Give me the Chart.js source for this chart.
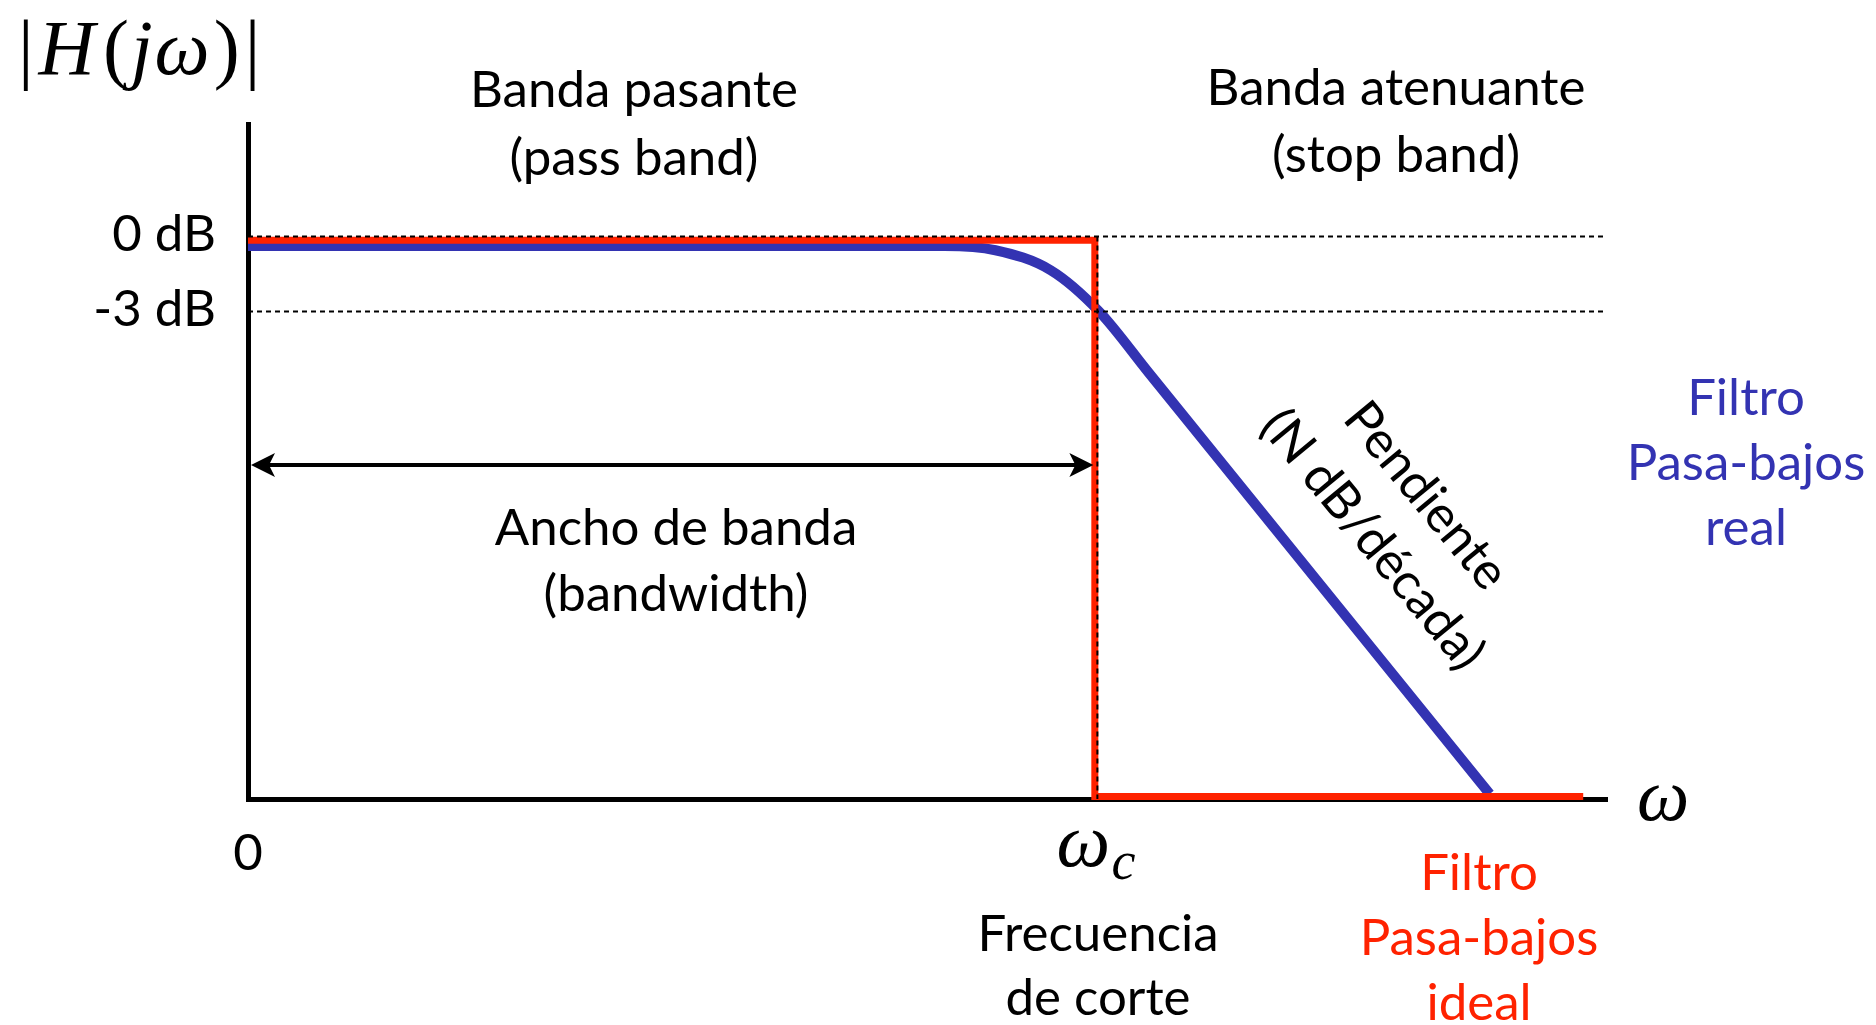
<!DOCTYPE html>
<html>
<head>
<meta charset="utf-8">
<script src="https://cdn.jsdelivr.net/npm/chart.js@4.4.0/dist/chart.umd.min.js"></script>
<style>
html,body{margin:0;padding:0;background:#ffffff;overflow:hidden}
#wrap{width:1876px;height:1025px;position:relative}
</style>
</head>
<body>
<div id="wrap"><canvas id="c" width="1876" height="1025"></canvas></div>
<script>
// ---------- data ----------
const omegaC = 10;                 // cut-off frequency (x units)
const xMin = 0, xMax = 16;
const yMin = -22.5, yMax = 4.5;    // magnitude (dB, schematic)
const yTickValues = [0, -3];
const yTickLabels = ['0 dB', '-3 dB'];
const refLevels = [0, -3];         // dotted reference levels
const idealX = [0, 9.97, 9.97, 15.72];
const idealY = [-0.15, -0.15, -22.4, -22.4];
const realX = [0, 8.2, 8.8, 9.45, 10.02, 10.6, 14.62];
const realY = [-0.38, -0.38, -0.55, -1.35, -3.0, -5.43, -22.3];
const bandwidthArrowY = -9.14;

const RED = '#ff2200';
const BLUE = '#3333b2';
const SANS = 'Lato';
const SERIF = "'Liberation Serif'";

const pts = (xs, ys) => xs.map((x, i) => ({x: x, y: ys[i]}));

const datasets = [];
refLevels.forEach(lv => {
  datasets.push({
    data: [{x: xMin, y: lv}, {x: xMax, y: lv}],
    borderColor: '#000', borderWidth: 2, borderDash: [5, 4],
    showLine: true, pointRadius: 0, order: 0, clip: false
  });
});
datasets.push({
  data: [{x: omegaC, y: 0}, {x: omegaC, y: yMin}],
  borderColor: '#000', borderWidth: 2, borderDash: [5, 4],
  showLine: true, pointRadius: 0, order: 0, clip: false
});
datasets.push({
  data: pts(idealX, idealY),
  borderColor: RED, borderWidth: 7, borderJoinStyle: 'miter',
  showLine: true, pointRadius: 0, order: 1, clip: false
});
datasets.push({
  data: pts(realX, realY),
  borderColor: BLUE, borderWidth: 10, cubicInterpolationMode: 'monotone',
  showLine: true, pointRadius: 0, order: 2, clip: false
});

function txt(ctx, s, x, y, font, color, align) {
  ctx.save();
  ctx.font = font;
  ctx.fillStyle = color || '#000';
  ctx.textAlign = align || 'center';
  ctx.textBaseline = 'alphabetic';
  ctx.fillText(s, x, y);
  ctx.restore();
}

const annot = {
  id: 'annot',
  afterDatasetsDraw(chart) {
    const ctx = chart.ctx;
    const xs = chart.scales.x, ys = chart.scales.y;
    const f = '51px ' + SANS;

    // bandwidth arrow
    const ay = ys.getPixelForValue(bandwidthArrowY);
    const ax0 = xs.getPixelForValue(0) + 3;
    const ax1 = xs.getPixelForValue(omegaC) - 4;
    ctx.save();
    ctx.strokeStyle = '#000'; ctx.fillStyle = '#000'; ctx.lineWidth = 4;
    ctx.beginPath(); ctx.moveTo(ax0 + 15, ay); ctx.lineTo(ax1 - 15, ay); ctx.stroke();
    ctx.beginPath(); ctx.moveTo(ax0, ay); ctx.lineTo(ax0 + 24, ay - 12); ctx.lineTo(ax0 + 18, ay); ctx.lineTo(ax0 + 24, ay + 12); ctx.closePath(); ctx.fill();
    ctx.beginPath(); ctx.moveTo(ax1, ay); ctx.lineTo(ax1 - 24, ay - 12); ctx.lineTo(ax1 - 18, ay); ctx.lineTo(ax1 - 24, ay + 12); ctx.closePath(); ctx.fill();
    ctx.restore();

    // x tick labels
    txt(ctx, '0', xs.getPixelForValue(0), 870, f, '#000');
    const wc = xs.getPixelForValue(omegaC);
    txt(ctx, 'ω', wc - 14, 866, 'italic 76px ' + SERIF, '#000');
    txt(ctx, 'c', wc + 26, 879, 'italic 54px ' + SERIF, '#000');
    // axis name omega
    txt(ctx, 'ω', 1663, 820, 'italic 74px ' + SERIF, '#000');

    // |H(jω)|
    const up = '78px ' + SERIF, it = 'italic 78px ' + SERIF;
    const parts = [['|', up, 5], ['H', it, 8], ['(', up, 2], ['j', it, 2], ['ω', it, 4], [')', up, 5], ['|', up, 0]];
    let px = 18;
    ctx.save();
    ctx.fillStyle = '#000'; ctx.textBaseline = 'alphabetic'; ctx.textAlign = 'left';
    parts.forEach(p => { ctx.font = p[1]; ctx.fillText(p[0], px, 74); px += ctx.measureText(p[0]).width + p[2]; });
    ctx.restore();

    // band labels
    txt(ctx, 'Banda pasante', 634, 107, f);
    txt(ctx, '(pass band)', 634, 175, f);
    txt(ctx, 'Banda atenuante', 1396, 105, f);
    txt(ctx, '(stop band)', 1396, 172, f);
    txt(ctx, 'Ancho de banda', 676, 545, f);
    txt(ctx, '(bandwidth)', 676, 611, f);
    txt(ctx, 'Frecuencia', 1098, 951, f);
    txt(ctx, 'de corte', 1098, 1015, f);
    txt(ctx, 'Filtro', 1479, 890, f, RED);
    txt(ctx, 'Pasa-bajos', 1479, 955, f, RED);
    txt(ctx, 'ideal', 1479, 1020, f, RED);
    txt(ctx, 'Filtro', 1746, 415, f, BLUE);
    txt(ctx, 'Pasa-bajos', 1746, 480, f, BLUE);
    txt(ctx, 'real', 1746, 545, f, BLUE);

    // slope label (rotated)
    ctx.save();
    ctx.translate(1400, 517);
    ctx.rotate(50.5 * Math.PI / 180);
    txt(ctx, 'Pendiente', 0, -17, f);
    txt(ctx, '(N dB/década)', 0, 52, f);
    ctx.restore();
  }
};

new Chart(document.getElementById('c'), {
  type: 'scatter',
  data: {datasets: datasets},
  options: {
    responsive: false,
    animation: false,
    devicePixelRatio: 1,
    layout: {padding: {top: 124, right: 269, left: 0, bottom: 0}},
    plugins: {legend: {display: false}, tooltip: {enabled: false}},
    scales: {
      x: {
        type: 'linear', min: xMin, max: xMax,
        grid: {display: false, drawTicks: false},
        border: {display: true, color: '#000', width: 5},
        ticks: {display: false},
        afterFit: s => { s.height = 226; }
      },
      y: {
        type: 'linear', min: yMin, max: yMax,
        grid: {display: false, drawTicks: false},
        border: {display: true, color: '#000', width: 5},
        afterBuildTicks: s => { s.ticks = yTickValues.map(v => ({value: v})); },
        ticks: {
          color: '#000', padding: 32, autoSkip: false, labelOffset: -2,
          font: {family: SANS, size: 51},
          callback: v => { const i = yTickValues.indexOf(v); return i >= 0 ? yTickLabels[i] : ''; }
        },
        afterFit: s => { s.width = 248; }
      }
    }
  },
  plugins: [annot]
});
</script>
</body>
</html>
